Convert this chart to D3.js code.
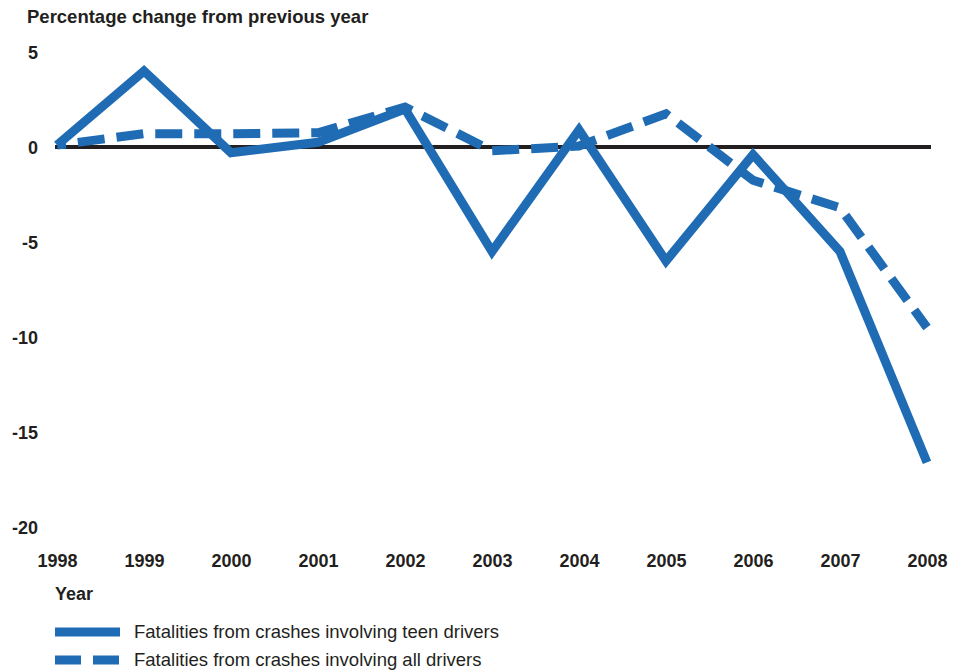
<!DOCTYPE html>
<html><head><meta charset="utf-8">
<script src="https://cdn.jsdelivr.net/npm/d3@7"></script>
<style>
body{margin:0;background:#fff;}
text{font-family:"Liberation Sans",Arial,Helvetica,sans-serif;fill:#231f20;}
</style></head>
<body><svg id="c" width="965" height="671"></svg>
<script>
const years = [1998,1999,2000,2001,2002,2003,2004,2005,2006,2007,2008];
const teenDrivers = [0.1,4.0,-0.3,0.25,2.0,-5.5,0.9,-6.0,-0.4,-5.5,-16.6];
const allDrivers = [0.1,0.7,0.7,0.75,2.1,-0.2,0.05,1.75,-1.75,-3.2,-9.5];
const yTicks = [5,0,-5,-10,-15,-20];
const seriesNames = ["Fatalities from crashes involving teen drivers","Fatalities from crashes involving all drivers"];

const color = "#1f6cb4";
const svg = d3.select("#c");
const x = d3.scaleLinear().domain([1998,2008]).range([57,927]);
const y = d3.scaleLinear().domain([5,-20]).range([52,527]);

svg.append("text").attr("x",27).attr("y",23).attr("font-size",18.5).attr("font-weight","bold")
  .text("Percentage change from previous year");

const yAxis = svg.append("g").attr("transform","translate(38,0)")
  .call(d3.axisLeft(y).tickValues(yTicks).tickSize(0).tickPadding(0).tickFormat(d=>String(d)));
yAxis.select(".domain").remove();
yAxis.selectAll("text").attr("font-size",18).attr("font-weight","bold").attr("dy","0.35em")
  .style("font-family",'"Liberation Sans",Arial,sans-serif').attr("fill","#231f20");

const xAxis = svg.append("g").attr("transform","translate(0,561)")
  .call(d3.axisBottom(x).tickValues(years).tickSize(0).tickPadding(0).tickFormat(d=>String(d)));
xAxis.select(".domain").remove();
xAxis.selectAll("text").attr("font-size",18).attr("font-weight","bold").attr("dy","0.35em")
  .style("font-family",'"Liberation Sans",Arial,sans-serif').attr("fill","#231f20");

svg.append("text").attr("x",55).attr("y",600).attr("font-size",18).attr("font-weight","bold").text("Year");

// zero line
svg.append("line").attr("x1",55).attr("x2",931).attr("y1",y(0)).attr("y2",y(0))
  .attr("stroke","#231f20").attr("stroke-width",4);

const line = d3.line().x((d,i)=>x(years[i])).y(d=>y(d));
svg.append("path").datum(allDrivers).attr("d",line).attr("fill","none")
  .attr("stroke",color).attr("stroke-width",9).attr("stroke-dasharray","27,12").attr("stroke-dashoffset",18);
svg.append("path").datum(teenDrivers).attr("d",line).attr("fill","none")
  .attr("stroke",color).attr("stroke-width",9).attr("stroke-linejoin","miter");

// legend
const lg = svg.append("g");
[0,1].forEach(i=>{
  const yy = i===0 ? 632 : 660;
  lg.append("line").attr("x1",55).attr("x2",120).attr("y1",yy).attr("y2",yy)
    .attr("stroke",color).attr("stroke-width",9)
    .attr("stroke-dasharray", i===1 ? "26,12" : null);
  lg.append("text").attr("x",134).attr("y",yy).attr("dy","0.35em").attr("font-size",18.5).text(seriesNames[i]);
});
</script></body></html>
